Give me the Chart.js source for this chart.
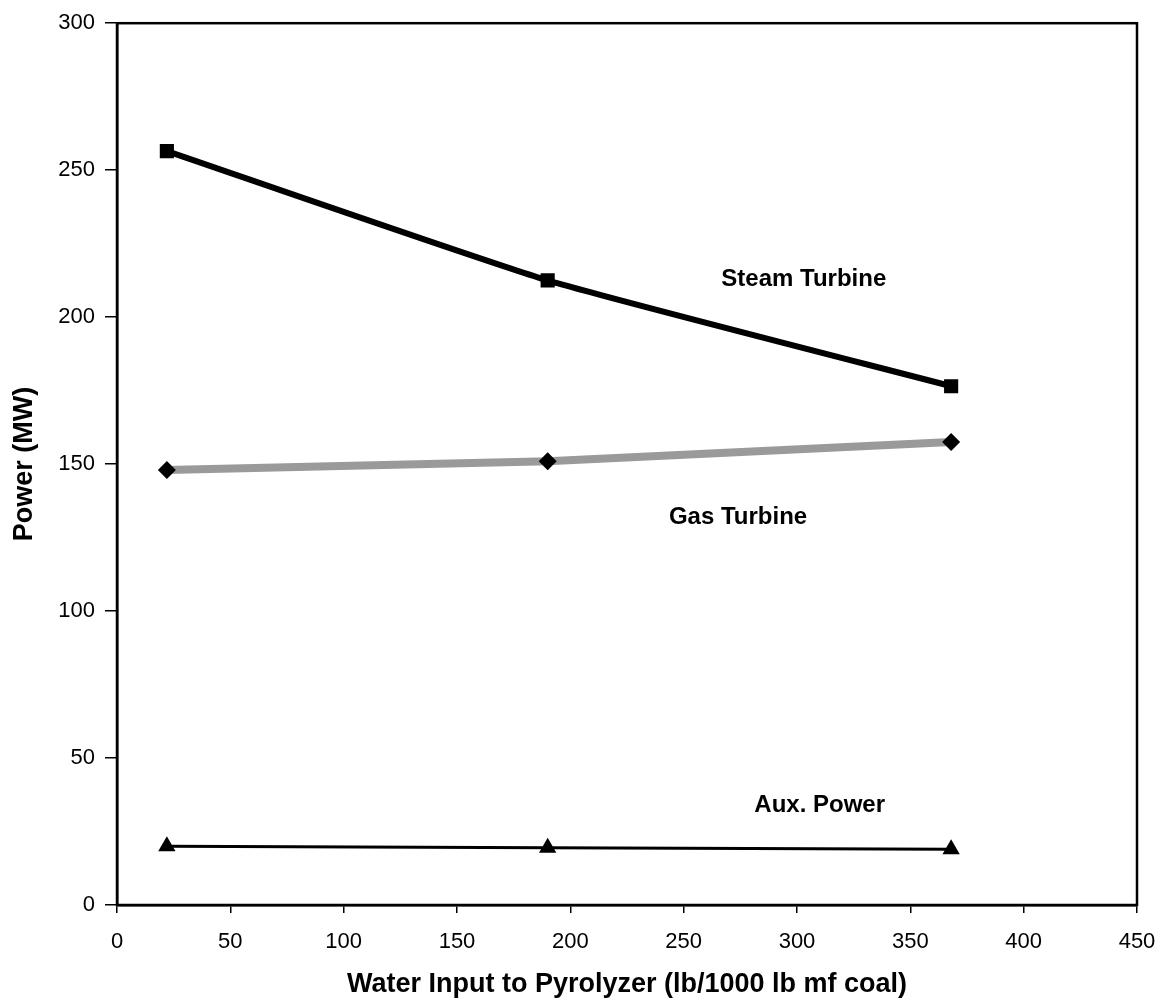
<!DOCTYPE html>
<html>
<head>
<meta charset="utf-8">
<script src="https://cdn.jsdelivr.net/npm/chart.js@4"></script>
<style>
  html, body { margin: 0; padding: 0; background: #fff; }
  #wrap { width: 1164px; height: 1003px; position: relative; }
</style>
</head>
<body>
<div id="wrap"><canvas id="chart"></canvas></div>
<script>
// water input (lb/1000 lb mf coal)
const waterInput = [22, 190, 368];
const steamTurbine = [256.5, 212.5, 176.5];
const gasTurbine = [148, 151, 157.5];
const auxPower = [20, 19.5, 19];

// text labels placed in data units
const seriesLabels = [
  { text: "Steam Turbine", x: 303, y: 213 },
  { text: "Gas Turbine", x: 274, y: 132 },
  { text: "Aux. Power", x: 310, y: 34 }
];

const FONT = "'Liberation Sans', Arial, sans-serif";

function pts(ys) {
  return waterInput.map((x, i) => ({ x, y: ys[i] }));
}

const framePlugin = {
  id: 'frame',
  afterDraw(chart) {
    const { ctx, chartArea: a, scales } = chart;
    ctx.save();
    ctx.strokeStyle = '#000';
    ctx.lineWidth = 2.5;
    ctx.strokeRect(a.left, a.top, a.right - a.left, a.bottom - a.top);
    ctx.font = "bold 24px " + FONT;
    ctx.fillStyle = '#000';
    ctx.textAlign = 'center';
    ctx.textBaseline = 'middle';
    seriesLabels.forEach(l => {
      ctx.fillText(l.text, scales.x.getPixelForValue(l.x), scales.y.getPixelForValue(l.y));
    });
    ctx.restore();
  }
};

new Chart(document.getElementById('chart'), {
  type: 'line',
  data: {
    datasets: [
      {
        label: 'Steam Turbine',
        data: pts(steamTurbine),
        borderColor: '#000',
        backgroundColor: '#000',
        borderWidth: 6,
        tension: 0.15,
        pointStyle: 'rect',
        pointRadius: 10,
        pointBorderWidth: 0
      },
      {
        label: 'Gas Turbine',
        data: pts(gasTurbine),
        borderColor: '#9a9a9a',
        backgroundColor: '#000',
        borderWidth: 8,
        tension: 0,
        pointStyle: 'rectRot',
        pointRadius: 9,
        pointBorderWidth: 0
      },
      {
        label: 'Aux. Power',
        data: pts(auxPower),
        borderColor: '#000',
        backgroundColor: '#000',
        borderWidth: 3,
        tension: 0,
        pointStyle: 'triangle',
        pointRadius: 10,
        pointBorderWidth: 0
      }
    ]
  },
  options: {
    responsive: true,
    maintainAspectRatio: false,
    animation: false,
    layout: { padding: { top: 22, right: 27, left: 4, bottom: 0 } },
    plugins: {
      legend: { display: false },
      tooltip: { enabled: false }
    },
    scales: {
      x: {
        type: 'linear',
        min: 0,
        max: 450,
        afterFit: s => { s.height = 98; s.paddingRight = 0; },
        border: { color: '#000', width: 2.5 },
        grid: { drawOnChartArea: false, color: '#000', tickLength: 8, lineWidth: 1.5 },
        ticks: { stepSize: 50, color: '#000', font: { family: FONT, size: 22 }, padding: 16 },
        title: {
          display: true,
          text: 'Water Input to Pyrolyzer (lb/1000 lb mf coal)',
          color: '#000',
          font: { family: FONT, size: 27, weight: 'bold' },
          padding: { top: 10, bottom: 2 }
        }
      },
      y: {
        min: 0,
        max: 300,
        afterFit: s => { s.width = 113; },
        border: { color: '#000', width: 2.5 },
        grid: { drawOnChartArea: false, color: '#000', tickLength: 12, lineWidth: 1.5 },
        ticks: { stepSize: 50, color: '#000', font: { family: FONT, size: 22 }, padding: 10 },
        title: {
          display: true,
          text: 'Power (MW)',
          color: '#000',
          font: { family: FONT, size: 27, weight: 'bold' },
          padding: { bottom: 0 }
        }
      }
    }
  },
  plugins: [framePlugin]
});
</script>
</body>
</html>
